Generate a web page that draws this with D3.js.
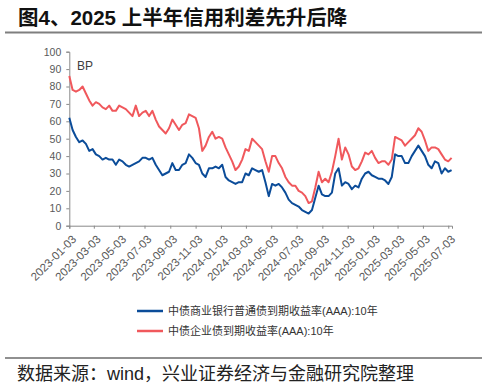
<!DOCTYPE html>
<html>
<head>
<meta charset="utf-8">
<script src="https://cdn.jsdelivr.net/npm/d3@7"></script>
<style>
  body { margin: 0; background: #fff; }
  svg { display: block; font-family: "Liberation Sans", Arial, "Noto Sans CJK SC", sans-serif; }
</style>
</head>
<body>
<script>
// sample dates, every 8 days
const dates = [
  '2023-01-03', '2023-01-11', '2023-01-19', '2023-01-27', '2023-02-04', '2023-02-12', '2023-02-20', '2023-02-28',
  '2023-03-08', '2023-03-16', '2023-03-24', '2023-04-01', '2023-04-09', '2023-04-17', '2023-04-25', '2023-05-03',
  '2023-05-11', '2023-05-19', '2023-05-27', '2023-06-04', '2023-06-12', '2023-06-20', '2023-06-28', '2023-07-06',
  '2023-07-14', '2023-07-22', '2023-07-30', '2023-08-07', '2023-08-15', '2023-08-23', '2023-08-31', '2023-09-08',
  '2023-09-16', '2023-09-24', '2023-10-02', '2023-10-10', '2023-10-18', '2023-10-26', '2023-11-03', '2023-11-11',
  '2023-11-19', '2023-11-27', '2023-12-05', '2023-12-13', '2023-12-21', '2023-12-29', '2024-01-06', '2024-01-14',
  '2024-01-22', '2024-01-30', '2024-02-07', '2024-02-15', '2024-02-23', '2024-03-02', '2024-03-10', '2024-03-18',
  '2024-03-26', '2024-04-03', '2024-04-11', '2024-04-19', '2024-04-27', '2024-05-05', '2024-05-13', '2024-05-21',
  '2024-05-29', '2024-06-06', '2024-06-14', '2024-06-22', '2024-06-30', '2024-07-08', '2024-07-16', '2024-07-24',
  '2024-08-01', '2024-08-09', '2024-08-17', '2024-08-25', '2024-09-02', '2024-09-10', '2024-09-18', '2024-09-26',
  '2024-10-04', '2024-10-12', '2024-10-20', '2024-10-28', '2024-11-05', '2024-11-13', '2024-11-21', '2024-11-29',
  '2024-12-07', '2024-12-15', '2024-12-23', '2024-12-31', '2025-01-08', '2025-01-16', '2025-01-24', '2025-02-01',
  '2025-02-09', '2025-02-17', '2025-02-25', '2025-03-05', '2025-03-13', '2025-03-21', '2025-03-29', '2025-04-06',
  '2025-04-14', '2025-04-22', '2025-04-30', '2025-05-08', '2025-05-16', '2025-05-24', '2025-06-01', '2025-06-09',
  '2025-06-17', '2025-06-25', '2025-07-03', '2025-07-11'
]

// 中债商业银行普通债到期收益率(AAA):10年 spread, bp
const bankBond = [
  62, 55, 51, 48, 49, 47, 43, 44, 41, 40, 38, 39, 38, 38, 35, 38,
  37, 35, 34, 35, 36, 37, 39, 39, 38, 39, 35, 32, 29, 30, 31, 36,
  32, 32, 35, 36, 41, 39, 36, 35, 30, 28, 33, 33, 34, 33, 35, 28,
  26, 25, 24, 25, 25, 30, 29, 33, 32, 31, 32, 25, 17, 24, 23, 24,
  22, 19, 15, 13, 12, 11, 9, 8, 7, 9, 16, 23, 18, 17, 17, 19,
  30, 33, 23, 25, 24, 21, 23, 22, 27, 30, 31, 29, 28, 27, 27, 26,
  24, 28, 41, 40, 40, 36, 36, 40, 43, 46, 43, 40, 35, 33, 37, 36,
  30, 33, 31, 32
]

// 中债企业债到期收益率(AAA):10年 spread, bp
const corpBond = [
  86, 78, 77, 78, 80, 76, 72, 69, 71, 70, 68, 67, 69, 66, 66, 69,
  68, 67, 65, 63, 69, 63, 65, 66, 63, 66, 61, 57, 55, 53, 56, 61,
  58, 55, 58, 59, 64, 63, 62, 56, 43, 46, 51, 54, 50, 51, 50, 45,
  41, 37, 32, 34, 38, 44, 43, 50, 48, 46, 44, 37, 31, 40, 40, 36,
  33, 28, 25, 23, 23, 20, 19, 17, 13, 14, 22, 31, 25, 27, 25, 31,
  40, 50, 38, 45, 41, 34, 32, 33, 37, 42, 41, 43, 39, 36, 37, 37,
  35, 38, 51, 50, 49, 46, 48, 50, 52, 56, 54, 49, 43, 45, 45, 44,
  41, 38, 37, 39
]

const tickDates = [
  '2023-01-03', '2023-03-03', '2023-05-03', '2023-07-03', '2023-09-03', '2023-11-03',
  '2024-01-03', '2024-03-03', '2024-05-03', '2024-07-03', '2024-09-03', '2024-11-03',
  '2025-01-03', '2025-03-03', '2025-05-03', '2025-07-03'
]
const yTicks = [0, 10, 20, 30, 40, 50, 60, 70, 80, 90, 100]

const seriesNames = ['中债商业银行普通债到期收益率(AAA):10年', '中债企业债到期收益率(AAA):10年']
const seriesColors = ['#0b4c99', '#f0585c']

const width = 487
const height = 388
const parse = d3.utcParse('%Y-%m-%d')
const fmt = d3.utcFormat('%Y-%m-%d')

const svg = d3.select('body').append('svg')
  .attr('width', width)
  .attr('height', height)

// title
svg.append('text')
  .attr('x', 18)
  .attr('y', 25)
  .attr('font-size', 20.5)
  .attr('font-weight', 'bold')
  .attr('fill', '#111')
  .text('图4、2025 上半年信用利差先升后降')

svg.append('line')
  .attr('x1', 5).attr('x2', 482)
  .attr('y1', 32.5).attr('y2', 32.5)
  .attr('stroke', '#7f7f7f')
  .attr('stroke-width', 2)

const x = d3.scaleUtc()
  .domain([parse('2023-01-03'), parse('2025-07-12')])
  .range([69.3, 452])

const y = d3.scaleLinear()
  .domain([0, 100])
  .range([225.7, 51.7])

const xAxis = svg.append('g')
  .attr('transform', `translate(0,${y(0)})`)
  .call(d3.axisBottom(x)
    .tickValues(tickDates.map(parse))
    .tickFormat(fmt)
    .tickSizeOuter(0)
    .tickSize(3))

xAxis.selectAll('text')
  .attr('font-size', 11.5)
  .attr('fill', '#595959')
  .attr('text-anchor', 'end')
  .attr('dx', 0)
  .attr('dy', 0)
  .attr('transform', 'translate(3,10) rotate(-45)')

const yAxis = svg.append('g')
  .attr('transform', `translate(${x.range()[0]},0)`)
  .call(d3.axisLeft(y)
    .tickValues(yTicks)
    .tickSizeOuter(0)
    .tickSize(3)
    .tickPadding(5))

yAxis.selectAll('text')
  .attr('font-size', 10.5)
  .attr('fill', '#595959')

svg.selectAll('.domain, .tick line')
  .attr('stroke', '#898989')

svg.append('text')
  .attr('x', 77)
  .attr('y', 70)
  .attr('font-size', 12)
  .attr('fill', '#404040')
  .text('BP')

const line = d3.line()
  .x((d, i) => x(parse(dates[i])))
  .y(d => y(d))

const series = [bankBond, corpBond]

svg.append('g')
  .selectAll('path')
  .data(series.slice().reverse())
  .join('path')
  .attr('d', d => line(d))
  .attr('fill', 'none')
  .attr('stroke', (d, i) => seriesColors[series.length - 1 - i])
  .attr('stroke-width', 2)
  .attr('stroke-linejoin', 'round')

// legend
const legend = svg.append('g')
  .selectAll('g')
  .data(seriesNames)
  .join('g')
  .attr('transform', (d, i) => `translate(137,${311 + i * 20})`)

legend.append('line')
  .attr('x1', 0).attr('x2', 26)
  .attr('stroke', (d, i) => seriesColors[i])
  .attr('stroke-width', 2.5)

legend.append('text')
  .attr('x', 31)
  .attr('y', 4)
  .attr('font-size', 11)
  .attr('fill', '#333')
  .text(d => d)

// source
svg.append('line')
  .attr('x1', 5).attr('x2', 482)
  .attr('y1', 358).attr('y2', 358)
  .attr('stroke', '#222')
  .attr('stroke-width', 1.2)

svg.append('text')
  .attr('x', 17)
  .attr('y', 380)
  .attr('font-size', 18)
  .attr('fill', '#222')
  .text('数据来源：wind，兴业证券经济与金融研究院整理')
</script>
</body>
</html>
